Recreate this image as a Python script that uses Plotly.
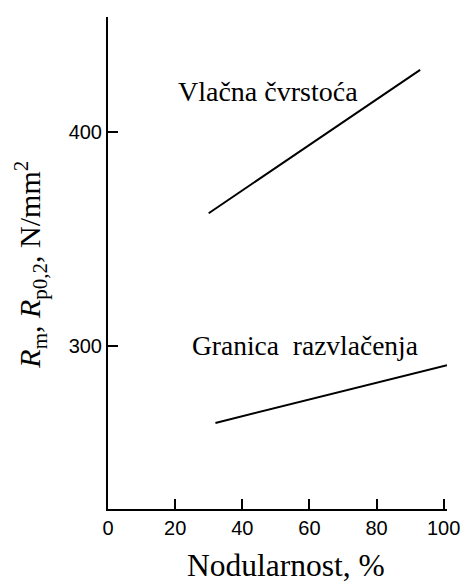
import plotly.graph_objects as go

# nodularnost (%) i čvrstoće (N/mm2) očitane s dijagrama
nodularnost_rm = [30, 93]
vlacna_cvrstoca = [362, 429]

nodularnost_rp = [32, 101]
granica_razvlacenja = [264, 291]

x_ticks = [0, 20, 40, 60, 80, 100]
y_ticks = [300, 400]

serif = "Liberation Serif, Times New Roman, serif"
sans = "Liberation Sans, Arial, sans-serif"

fig = go.Figure()
fig.add_trace(go.Scatter(x=nodularnost_rm, y=vlacna_cvrstoca, mode="lines",
                         line=dict(color="black", width=2), cliponaxis=False))
fig.add_trace(go.Scatter(x=nodularnost_rp, y=granica_razvlacenja, mode="lines",
                         line=dict(color="black", width=2), cliponaxis=False))

# natpisi uz krivulje
fig.add_annotation(x=47.8, y=418.8, text="Vlačna čvrstoća", showarrow=False,
                   font=dict(family=serif, size=28, color="black"))
fig.add_annotation(x=58.6, y=300, text="Granica  razvlačenja", showarrow=False,
                   font=dict(family=serif, size=27.5, color="black"))

# naslovi osi
fig.add_annotation(xref="paper", yref="paper", x=0.525, y=-0.114,
                   xanchor="center", yanchor="middle",
                   text="Nodularnost, %", showarrow=False,
                   font=dict(family=serif, size=31.5, color="black"))
fig.add_annotation(xref="paper", yref="paper", x=-0.228, y=0.496, textangle=-90,
                   xanchor="center", yanchor="middle",
                   text="<i>R</i><sub>m</sub>, <i>R</i><sub>p0,2</sub>, N/mm<sup>2</sup>",
                   showarrow=False, font=dict(family=serif, size=30, color="black"))

# stranica ima 8 px ruba, pa je slika za toliko manja
fig.update_layout(
    width=461, height=575,
    margin=dict(l=100, r=17.6, t=9, b=74),
    plot_bgcolor="white", paper_bgcolor="white",
    showlegend=False,
)
fig.update_xaxes(range=[0, 101], tickvals=x_ticks, ticks="inside", ticklen=10,
                 tickwidth=2, tickcolor="black", showline=True, linecolor="black",
                 linewidth=2, showgrid=False, zeroline=False,
                 tickfont=dict(family=sans, size=20, color="black"))
fig.update_yaxes(range=[223.8, 453.7], tickvals=y_ticks, ticks="inside", ticklen=10,
                 tickwidth=2, tickcolor="black", showline=True, linecolor="black",
                 linewidth=2, showgrid=False, zeroline=False,
                 tickfont=dict(family=sans, size=20, color="black"))

fig.write_html("out.html")
